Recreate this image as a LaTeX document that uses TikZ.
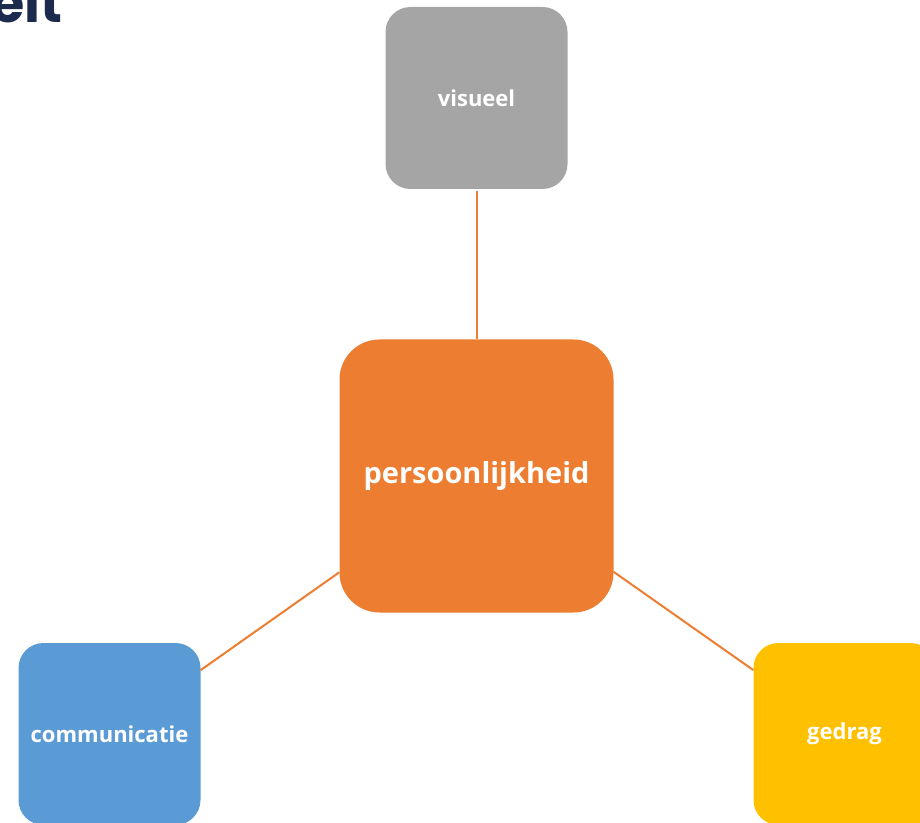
\documentclass[tikz,border=0pt]{standalone}
\usepackage{fontspec}
\setmainfont{Open Sans}
\newfontfamily\titlefont{Poppins}
\definecolor{cgray}{HTML}{A5A5A5}
\definecolor{corange}{HTML}{ED7D31}
\definecolor{cblue}{HTML}{5B9BD5}
\definecolor{cgold}{HTML}{FFC000}
\definecolor{cnavy}{HTML}{1C2A4E}
\tikzset{
  card/.style={rectangle, rounded corners=25pt, minimum width=182pt, minimum height=182pt, inner sep=0pt, text=white, font=\fontsize{22}{26}\selectfont\bfseries},
  bigcard/.style={card, rounded corners=40pt, minimum width=274pt, minimum height=273pt, font=\fontsize{29}{34}\selectfont\bfseries},
  link/.style={draw=corange, line width=2pt}
}
\begin{document}
\begin{tikzpicture}[x=1pt,y=1pt]
\useasboundingbox (0,0) rectangle (920,822);
\clip (0,0) rectangle (920,822);
\node[anchor=base east, inner sep=0pt, text=cnavy, font=\titlefont\fontsize{54}{60}\selectfont\bfseries] (title) at (63,799) {eit};
\node[card, fill=cgray] (vis) at (476.5,724) {visueel};
\node[bigcard, fill=corange] (pers) at (476.5,346) {persoonlijkheid};
\node[card, fill=cblue] (comm) at (109.5,88) {communicatie};
\node[card, fill=cgold] (ged) at (844.5,88) {gedrag};
\draw[link] (vis.south) ++(0,-2) -- (pers.north);
\draw[link] (pers) -- (comm);
\draw[link] (pers) -- (ged);
\end{tikzpicture}
\end{document}
